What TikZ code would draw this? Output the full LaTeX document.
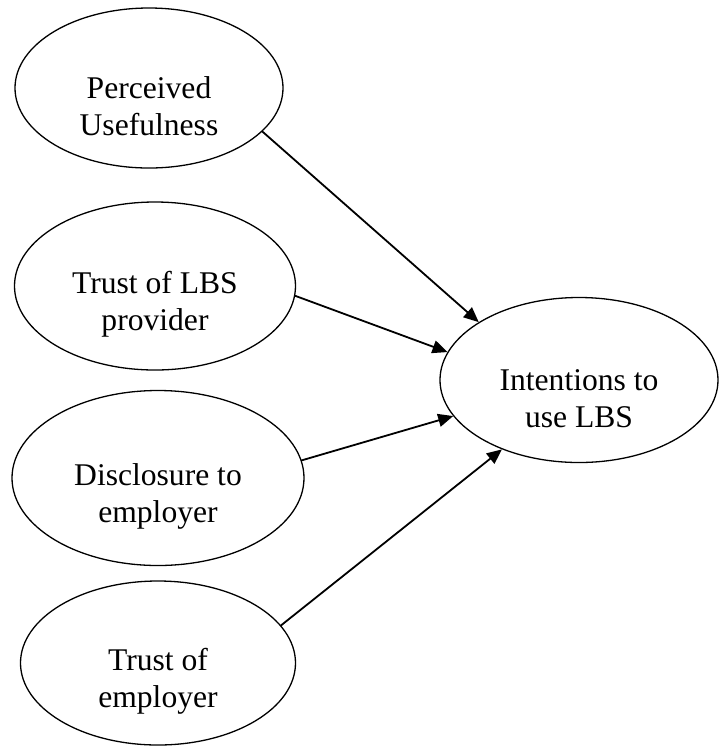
\documentclass[tikz,border=0pt]{standalone}
\usepackage{fontspec}
\setmainfont{Liberation Serif}
\usepackage{tikz}
\usetikzlibrary{arrows.meta,shapes.geometric}
\tikzset{
  every picture/.style={line join=round, line cap=round, >={Triangle[length=7.5pt,width=6.5pt]}},
  bubble/.style={draw, ellipse, line width=0.65pt, inner sep=0pt},
  lbl/.style={align=center, inner sep=0pt, font=\fontsize{15.8}{18.5}\selectfont},
  link/.style={->, line width=0.9pt},
}

\begin{document}
\begin{tikzpicture}[x=0.5pt,y=-0.5pt]
\useasboundingbox (0,0) rectangle (719,746);
% factors
\node[bubble, minimum width=134pt, minimum height=80pt] (pu) at (149,88) {};
\node[bubble, minimum width=140.5pt, minimum height=84pt] (tp) at (155,286) {};
\node[bubble, minimum width=146pt, minimum height=87.5pt] (de) at (158,478) {};
\node[bubble, minimum width=137.5pt, minimum height=82pt] (te) at (158,663) {};
% outcome
\node[bubble, minimum width=139pt, minimum height=82.5pt] (iu) at (579,380) {};
\node[lbl, yshift=-9.25pt] (pu-t) at (pu.center) {Perceived\\Usefulness};
\node[lbl, yshift=-9.25pt] (tp-t) at (tp.center) {Trust of LBS\\provider};
\node[lbl, yshift=-9.25pt] (de-t) at (de.center) {Disclosure to\\employer};
\node[lbl, yshift=-9.25pt] (te-t) at (te.center) {Trust of\\employer};
\node[lbl, yshift=-9.25pt] (iu-t) at (iu.center) {Intentions to\\use LBS};
\draw[link] (pu.-21.7) -- (iu.150.9);
\draw[link] (tp.-4.9) -- (iu.168);
\draw[link] (de.7.1) -- (iu.196.7);
\draw[link] (te.17.9) -- (iu.222.6);
\end{tikzpicture}
\end{document}
